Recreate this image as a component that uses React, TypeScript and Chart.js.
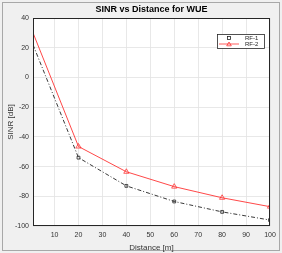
import React, { useEffect, useRef } from "react";
import { Chart, registerables } from "chart.js";
Chart.register(...registerables);

const distances = [1, 20, 40, 60, 80, 100];
const rf1 = [22, -54, -73, -83.5, -90.5, -96];
const rf2 = [30, -46.5, -63.5, -73.5, -81, -87];
const xTicks = [10, 20, 30, 40, 50, 60, 70, 80, 90, 100];
const seriesNames = ["RF-1", "RF-2"];
const titleText = "SINR vs Distance for WUE";
const xLabel = "Distance [m]";
const yLabel = "SINR [dB]";

const FONT = "'Liberation Sans', Arial, sans-serif";

const decor = {
  id: "decor",
  beforeDraw(chart: any) {
    const { ctx, width, height, chartArea: a } = chart;
    ctx.save();
    ctx.fillStyle = "#f0f0f0";
    ctx.fillRect(0, 0, width, height);
    ctx.strokeStyle = "#a8a8a8";
    ctx.lineWidth = 1;
    ctx.strokeRect(2.5, 2.5, width - 5, height - 5);
    ctx.fillStyle = "#ffffff";
    ctx.fillRect(a.left, a.top, a.right - a.left, a.bottom - a.top);
    ctx.restore();
  },
  afterDraw(chart: any) {
    const { ctx, chartArea: a } = chart;
    ctx.save();
    ctx.strokeStyle = "#262626";
    ctx.lineWidth = 1;
    ctx.strokeRect(a.left + 0.5, a.top + 0.5, a.right - a.left - 1, a.bottom - a.top - 1);
    // title
    ctx.fillStyle = "#000";
    ctx.font = "bold 9px " + FONT;
    ctx.textAlign = "center";
    ctx.textBaseline = "middle";
    ctx.fillText(titleText, (a.left + a.right) / 2, 9.5);
    // legend
    const lx = 217, ly = 34, lw = 47, lh = 14;
    ctx.fillStyle = "#fff";
    ctx.fillRect(lx, ly, lw, lh);
    ctx.strokeStyle = "#262626";
    ctx.lineWidth = 0.8;
    ctx.strokeRect(lx + 0.5, ly + 0.5, lw, lh);
    ctx.font = "6px " + FONT;
    ctx.textAlign = "left";
    ctx.fillStyle = "#262626";
    // RF-1
    let y = ly + 4;
    ctx.strokeStyle = "#222";
    ctx.lineWidth = 0.8;
    ctx.strokeRect(lx + 10.5, y - 1.5, 3, 3);
    ctx.fillText(seriesNames[0], lx + 28, y);
    // RF-2
    y = ly + 10;
    ctx.strokeStyle = "#ff3333";
    ctx.lineWidth = 0.8;
    ctx.beginPath();
    ctx.moveTo(lx + 2, y);
    ctx.lineTo(lx + 22, y);
    ctx.stroke();
    ctx.beginPath();
    ctx.moveTo(lx + 12, y - 2);
    ctx.lineTo(lx + 14.3, y + 1.8);
    ctx.lineTo(lx + 9.7, y + 1.8);
    ctx.closePath();
    ctx.stroke();
    ctx.fillText(seriesNames[1], lx + 28, y);
    ctx.restore();
  },
};

export default function App() {
  const ref = useRef<HTMLCanvasElement>(null);
  useEffect(() => {
    const chart = new Chart(ref.current!, {
      type: "line",
      data: {
        datasets: [
          {
            label: seriesNames[0],
            data: distances.map((d, i) => ({ x: d, y: rf1[i] })),
            borderColor: "#222222",
            borderWidth: 0.9,
            borderDash: [4, 2, 1, 2],
            pointStyle: "rect",
            pointRadius: distances.map((_, i) => (i === 0 ? 0 : 2)),
            pointBorderColor: "#222222",
            pointBackgroundColor: "rgba(0,0,0,0)",
            pointBorderWidth: 0.8,
            fill: false,
            tension: 0,
          },
          {
            label: seriesNames[1],
            data: distances.map((d, i) => ({ x: d, y: rf2[i] })),
            borderColor: "#ff3333",
            borderWidth: 0.9,
            pointStyle: "triangle",
            pointRadius: distances.map((_, i) => (i === 0 ? 0 : 3)),
            pointBorderColor: "#ff3333",
            pointBackgroundColor: "rgba(0,0,0,0)",
            pointBorderWidth: 0.8,
            fill: false,
            tension: 0,
          },
        ],
      },
      options: {
        animation: false,
        responsive: false,
        maintainAspectRatio: false,
        layout: { padding: { left: 0, right: 12, top: 18, bottom: 0 } },
        plugins: { legend: { display: false }, tooltip: { enabled: false }, title: { display: false } },
        scales: {
          x: {
            type: "linear",
            min: 1,
            max: 100,
            afterBuildTicks: (axis: any) => {
              axis.ticks = xTicks.map((v) => ({ value: v }));
            },
            afterFit: (axis: any) => {
              axis.height = 27;
            },
            grid: { color: "#e2e2e2", lineWidth: 0.8, drawTicks: false },
            border: { display: false },
            ticks: {
              color: "#333",
              font: { family: FONT, size: 7 },
              padding: 5,
              maxRotation: 0,
              autoSkip: false,
            },
            title: {
              display: true,
              text: xLabel,
              color: "#333",
              font: { family: FONT, size: 8 },
              padding: { top: 0, bottom: 0 },
            },
          },
          y: {
            min: -100,
            max: 40,
            afterFit: (axis: any) => {
              axis.width = 33;
            },
            grid: { color: "#e2e2e2", lineWidth: 0.8, drawTicks: false },
            border: { display: false },
            ticks: {
              stepSize: 20,
              color: "#333",
              font: { family: FONT, size: 7 },
              padding: 4,
            },
            title: {
              display: true,
              text: yLabel,
              color: "#333",
              font: { family: FONT, size: 8 },
              padding: { top: 6, bottom: 0 },
            },
          },
        },
      },
      plugins: [decor],
    } as any);
    return () => chart.destroy();
  }, []);
  return (
    <div style={{ position: "fixed", left: 0, top: 0, width: 282, height: 253 }}>
      <canvas ref={ref} width={282} height={253} style={{ display: "block" }} />
    </div>
  );
}
